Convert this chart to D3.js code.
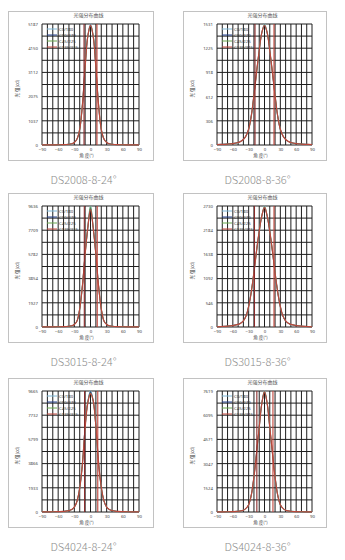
<!DOCTYPE html>
<html><head><meta charset="utf-8">
<script src="https://cdn.jsdelivr.net/npm/d3@7"></script>
<style>body{margin:0;background:#fff}svg{display:block}</style>
</head><body>
<svg id="c" width="345" height="560"></svg>
<script>
// ---------- DATA ----------
const angles = [-90,-80,-70,-60,-50,-45,-40,-35,-30,-25,-20,-15,-10,-5,0,5,10,15,20,25,30,35,40,45,50,60,70,80,90];
const seriesNames = ["C0/180","C90/270","C45/225","C135/315"];
const chartNames = ["DS2008-8-24°","DS2008-8-36°","DS3015-8-24°","DS3015-8-36°","DS4024-8-24°","DS4024-8-36°"];
const chartTitle = "光强分布曲线";
const xLabel = "角 度(°)";
const yLabel = "光 强(cd)";
const xTicks = [-90,-60,-30,0,30,60,90];
const yMax = [5187,1531,9636,2730,9665,7619];
const yTicks = [
  [0,1037,2075,3112,4150,5187],
  [0,306,612,918,1225,1531],
  [0,1927,3854,5782,7709,9636],
  [0,546,1092,1638,2184,2730],
  [0,1933,3866,5799,7732,9665],
  [0,1524,3047,4571,6095,7619]
];
const halfAngles = [[-12,12],[-18,18],[-11.5,12.5],[-19,18],[-11,13.5],[-14.5,16]];

// series order per chart: C0/180, C90/270, C45/225, C135/315
const ds2008_24 = [
  [5,5,8,10,16,21,31,50,100,250,660,1690,3300,4680,5187,4700,3340,1730,690,265,106,52,31,21,16,10,8,5,5],
  [5,6,8,11,17,22,32,54,108,268,690,1740,3350,4660,5100,4640,3290,1690,660,252,100,50,30,20,15,10,8,5,5],
  [5,5,8,10,16,21,31,52,104,262,680,1720,3310,4650,5120,4680,3330,1720,678,260,104,52,31,21,16,10,8,5,5],
  [5,5,8,10,16,21,31,52,104,259,674,1712,3320,4668,5140,4668,3320,1712,674,259,104,52,31,21,16,10,8,5,5]
];
const ds2008_36 = [
  [5,8,12,18,30,44,66,110,192,357,615,905,1185,1420,1531,1430,1200,930,640,375,205,118,70,46,31,18,12,8,5],
  [6,9,13,19,32,48,72,120,206,378,640,930,1200,1425,1505,1418,1188,908,618,360,194,112,67,45,30,18,12,8,5],
  [5,8,12,18,31,46,69,115,200,370,632,922,1196,1422,1520,1426,1196,922,630,368,200,116,69,46,31,18,12,8,5],
  [5,8,12,18,31,46,69,115,199,367,628,919,1194,1424,1515,1424,1194,919,628,367,199,115,69,46,31,18,12,8,5]
];
const ds3015_24 = [
  [10,10,14,19,29,38,56,92,186,470,1420,3240,5760,7950,9636,7980,5800,3300,1460,490,196,98,58,39,29,19,14,10,10],
  [10,11,15,20,30,40,60,100,200,495,1470,3310,5800,7880,9450,7860,5740,3240,1420,470,188,94,57,38,28,19,14,10,10],
  [10,10,14,19,29,39,58,96,193,485,1450,3280,5790,7920,9580,7930,5790,3280,1450,485,193,96,58,39,29,19,14,10,10],
  [10,10,14,19,29,39,58,96,193,482,1445,3276,5782,7902,9350,7902,5782,3276,1445,482,193,96,58,39,29,19,14,10,10]
];
const ds3015_36 = [
  [5,10,18,32,58,84,132,238,452,778,1212,1705,2148,2510,2730,2525,2170,1735,1245,806,475,252,140,88,60,33,19,11,5],
  [6,12,20,35,63,91,143,255,478,808,1248,1738,2165,2508,2690,2498,2142,1702,1212,778,452,240,133,85,58,32,18,10,5],
  [5,11,19,33,60,87,137,246,466,795,1232,1722,2160,2515,2715,2515,2160,1722,1232,795,466,246,137,87,60,33,19,11,5],
  [5,11,19,33,60,87,137,246,464,792,1229,1720,2157,2512,2700,2512,2157,1720,1229,792,464,246,137,87,60,33,19,11,5]
];
const ds4024_24 = [
  [10,14,19,29,48,77,116,190,380,850,1880,3780,6720,8800,9665,8950,6900,3980,2000,900,398,198,118,77,48,29,19,14,10],
  [10,14,20,30,50,80,120,200,400,890,1960,3900,6800,8800,9600,8850,6800,3900,1950,880,390,195,117,77,48,29,19,14,10],
  [10,14,19,29,48,77,116,193,387,870,1933,3866,6766,8795,9500,8850,6820,3920,1960,880,392,196,117,77,48,29,19,14,10],
  [10,14,19,29,48,77,116,193,387,860,1900,3800,6700,8700,9450,8900,6850,3950,1980,890,395,196,118,77,48,29,19,14,10]
];
const ds4024_36 = [
  [8,11,15,26,44,66,110,222,446,1050,2185,3710,5320,6870,7619,6880,5350,3760,2240,1085,466,232,116,70,46,27,15,11,8],
  [8,12,16,28,48,72,118,236,468,1085,2235,3760,5350,6850,7540,6840,5315,3705,2180,1050,448,224,112,68,45,26,15,11,8],
  [8,11,15,27,46,69,114,229,458,1070,2215,3738,5338,6860,7590,6860,5338,3738,2215,1070,458,229,114,69,46,27,15,11,8],
  [8,11,15,27,46,69,114,229,457,1067,2210,3733,5333,6857,7560,6857,5333,3733,2210,1067,457,229,114,69,46,27,15,11,8]
];
const chartData = [ds2008_24, ds2008_36, ds3015_24, ds3015_36, ds4024_24, ds4024_36];

// ---------- STYLE / LAYOUT ----------
const seriesColors = ["#7fb8d8","#233f8a","#6aa84f","#c0443a"];
const colX = [8, 183], colW = [145, 143];
const rowY = [11, 193, 378], rowH = 149;
const labelY = [184, 366, 551];
const m = {l:34, r:14, t:13, b:15};

const svg = d3.select("#c");
const font = "'Noto Sans','DejaVu Sans',sans-serif";
const cjk = "'Noto Sans CJK SC','Noto Sans',sans-serif";

chartData.forEach((series, ci) => {
  const col = ci % 2, row = Math.floor(ci / 2);
  const fx = colX[col], fy = rowY[row], fw = colW[col], fh = rowH;
  const g = svg.append("g");
  g.append("rect").attr("x", fx + 0.5).attr("y", fy + 0.5).attr("width", fw).attr("height", fh)
    .attr("fill", "#fff").attr("stroke", "#c2c2c2").attr("stroke-width", 1);

  const x0 = fx + m.l, x1 = fx + fw - m.r, y0 = fy + m.t, y1 = fy + fh - m.b;
  const x = d3.scaleLinear().domain([-90, 90]).range([x0, x1]);
  const y = d3.scaleLinear().domain([0, yMax[ci]]).range([y1, y0]);

  // grid
  const grid = g.append("g").attr("stroke", "#1e1e1e").attr("stroke-width", 1);
  d3.range(-90, 91, 10).forEach(a => {
    grid.append("line").attr("x1", x(a)).attr("x2", x(a)).attr("y1", y0).attr("y2", y1);
  });
  d3.range(0, 11).forEach(k => {
    const v = yMax[ci] * k / 10;
    grid.append("line").attr("x1", x0).attr("x2", x1).attr("y1", y(v)).attr("y2", y(v));
  });

  // axes ticks
  const xa = d3.axisBottom(x).tickValues(xTicks).tickSize(0).tickPadding(3);
  const gx = g.append("g").attr("transform", `translate(0,${y1})`).call(xa);
  gx.select(".domain").remove();
  gx.selectAll("text").attr("font-size", 4.3).attr("font-family", font).attr("fill", "#444");
  const ya = d3.axisLeft(y).tickValues(yTicks[ci]).tickFormat(d3.format("d")).tickSize(0).tickPadding(4);
  const gy = g.append("g").attr("transform", `translate(${x0},0)`).call(ya);
  gy.select(".domain").remove();
  gy.selectAll("text").attr("font-size", 4.3).attr("font-family", font).attr("fill", "#444");

  // curves
  const line = d3.line().x((d, i) => x(angles[i])).y(d => y(d)).curve(d3.curveCatmullRom.alpha(0.5));
  series.forEach((vals, si) => {
    g.append("path").attr("d", line(vals)).attr("fill", "none")
      .attr("stroke", seriesColors[si]).attr("stroke-width", si === 3 ? 1.2 : 0.9).attr("opacity", 0.95);
  });

  // half-intensity angle markers
  halfAngles[ci].forEach((a, k) => {
    g.append("line").attr("x1", x(a)).attr("x2", x(a)).attr("y1", y0).attr("y2", y1)
      .attr("stroke", k === 0 ? "#8a2a2a" : "#c0443a").attr("stroke-width", 1.1);
  });

  // legend
  seriesNames.forEach((nm, si) => {
    const ly = y0 + 5 + si * 6;
    g.append("line").attr("x1", x0 + 5).attr("x2", x0 + 15).attr("y1", ly).attr("y2", ly)
      .attr("stroke", seriesColors[si]).attr("stroke-width", 1);
    g.append("text").attr("x", x0 + 17).attr("y", ly + 1.5).text(nm)
      .attr("font-size", 4.3).attr("font-family", font).attr("fill", "#333");
  });

  // title and axis labels
  g.append("text").attr("x", (x0 + x1) / 2 - 2).attr("y", fy + 5.5).attr("text-anchor", "middle")
    .text(chartTitle).attr("font-size", 5).attr("font-family", cjk).attr("fill", "#555");
  g.append("text").attr("x", (x0 + x1) / 2 - 4).attr("y", y1 + 11.5).attr("text-anchor", "middle")
    .text(xLabel).attr("font-size", 4.5).attr("font-family", cjk).attr("fill", "#444");
  g.append("text").attr("transform", `translate(${fx + 11},${(y0 + y1) / 2 + 4}) rotate(-90)`)
    .attr("text-anchor", "middle").text(yLabel).attr("font-size", 4.5).attr("font-family", cjk).attr("fill", "#444");

  // caption
  svg.append("text").attr("x", fx + fw / 2 + 3).attr("y", labelY[row]).attr("text-anchor", "middle")
    .text(chartNames[ci]).attr("font-size", 11).attr("font-weight", 300)
    .attr("font-family", "'Noto Sans CJK SC','Noto Sans',sans-serif").attr("fill", "#8c8c8c");
});
</script>
</body></html>
